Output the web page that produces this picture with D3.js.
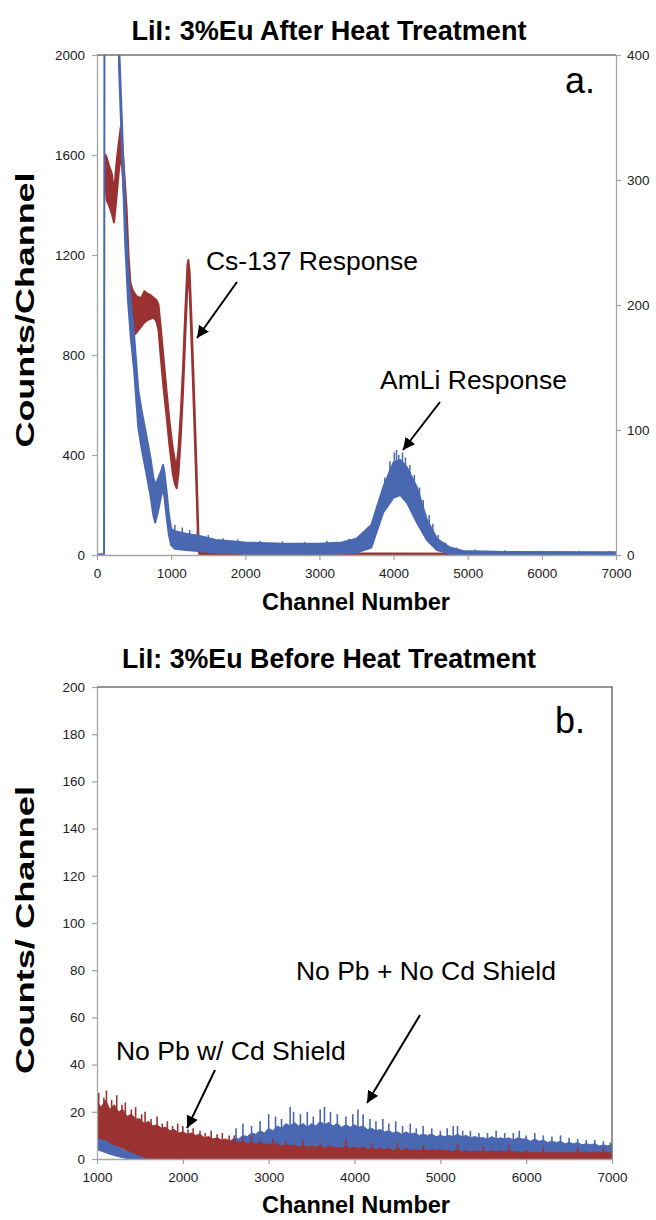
<!DOCTYPE html>
<html>
<head>
<meta charset="utf-8">
<script src="https://cdn.jsdelivr.net/npm/d3@7"></script>
<style>
body { margin: 0; background: #fff; }
svg text { font-family: "Liberation Sans", Arial, sans-serif; }
.tick text { font-size: 13.5px; fill: #222; }
</style>
</head>
<body>
<div id="chart"></div>
<script>
// ---- panel a: after heat treatment ----
const xTicksA = [0, 1000, 2000, 3000, 4000, 5000, 6000, 7000];
const yTicksLeftA = [0, 400, 800, 1200, 1600, 2000];
const yTicksRightA = [0, 100, 200, 300, 400];

// Cs-137 spectrum, left axis (counts/channel), upper and lower edge of the noise band
const csUpper = [[115,1600],[130,1590],[160,1560],[200,1525],[230,1450],[260,1560],[290,1640],[320,1710],[340,1650],[370,1520],[400,1380],[425,1200],[450,1090],[480,1060],[520,1040],[560,1030],[600,1030],[640,1055],[680,1045],[720,1040],[760,1030],[800,1020],[830,1000],[860,910],[900,780],[940,650],[980,530],[1020,430],[1050,380],[1075,360],[1100,430],[1130,570],[1160,750],[1190,970],[1220,1160],[1232,1180],[1250,1130],[1280,900],[1310,640],[1340,370],[1367,90],[1385,12],[1500,8],[3000,6],[4000,6],[7000,5]];
const csLower = [[115,1480],[130,1420],[160,1400],[200,1365],[230,1330],[260,1420],[290,1520],[320,1600],[340,1550],[370,1420],[400,1250],[425,1080],[450,930],[480,880],[520,885],[560,900],[600,915],[640,930],[680,940],[720,945],[760,950],[800,935],[830,900],[860,790],[900,660],[940,550],[980,430],[1020,330],[1050,285],[1075,267],[1100,330],[1130,470],[1160,650],[1190,870],[1220,1080],[1232,1130],[1250,1050],[1280,810],[1310,550],[1340,280],[1367,20],[1385,0],[7000,0]];

// AmLi spectrum, right axis
const amUpper = [[0,0.6],[95,0.6],[103,600],[290,600],[297,410],[340,340],[380,274],[420,228],[456,202],[500,176],[557,132],[600,116],[670,94],[720,78],[760,62],[790,56],[830,62],[870,68],[890,72],[910,66],[940,50],[970,32],[1000,21],[1050,19],[1200,17],[1400,15],[1600,12],[2000,10],[2500,9],[3000,9],[3300,10],[3500,13],[3700,24],[3860,54],[4000,74],[4090,76],[4180,70],[4315,54],[4450,28],[4585,13],[4760,6],[4940,3.2],[5500,2.4],[7000,2.1]];
const amLower = [[0,0],[95,0],[103,600],[290,600],[297,390],[340,320],[380,250],[420,202],[456,174],[500,148],[557,102],[600,86],[670,64],[720,48],[760,32],[785,26],[820,34],[860,46],[890,54],[910,46],[940,30],[970,16],[1000,8],[1050,5],[1200,4],[1400,3],[1600,2],[2000,1],[3300,1],[3500,2],[3700,6],[3860,34],[4000,46],[4090,48],[4180,42],[4315,26],[4450,12],[4585,4],[4760,1],[4940,0.5],[7000,0.5]];
// single channels sticking out of the AmLi band: [channel, from, to]
const amSpikes = [[1050,17,24],[1150,15,22],[1250,14,20],[1350,13,19],[1500,11,16],[1700,9,13.5],[1900,8,12.5],[2200,7,11.5],[2500,7,11],[2800,7,10.5],[3100,7,11.5],[3400,8,13],[3550,10,16],[3650,14,21],[3750,22,31],[3820,36,46],[3880,50,62],[3950,60,75],[4010,66,82],[4040,68,84],[4070,68,80],[4120,68,82],[4160,66,78],[4220,60,72],[4280,54,64],[4350,44,54],[4400,36,44],[4480,22,32],[4530,16,25],[4600,9,16],[4700,5,10],[4850,3,6],[5100,2,4.5],[5500,1.8,3.8],[6000,1.8,3.5],[6500,1.8,3.4],[6900,1.8,3]];

// ---- panel b: before heat treatment ----
const xTicksB = [1000, 2000, 3000, 4000, 5000, 6000, 7000];
const yTicksB = [0, 20, 40, 60, 80, 100, 120, 140, 160, 180, 200];
const channelsB = d3.range(1000, 7001, 50);

// No Pb w/ Cd shield (red) - top of the dense band, one value per 50 channels
const cdShieldTop = [
  24,22,25,21,23,20,21,18,19,17,
  17,15,16,14,14.5,13,13.5,12,12.5,11,
  11.5,10.5,11,10,10.5,9,9.5,8.5,9,8,
  8.5,7.5,8,7,7.5,6.5,7,6.5,7,6,
  6.5,6,6.5,5.5,6,5.5,6,5,5.5,5,
  5.5,5,5.5,4.5,5.5,5,5,4.5,5.5,4.5,
  5,4.5,5,4,4.5,4,4.5,4,4.5,3.5,
  4.5,3.5,4.5,3.5,4,3.5,4,3.5,4,3.5,
  4,3.5,3.5,3,4,3,3.5,3,3.5,3,
  3.5,3,3.5,3,3.5,3,3.5,3,3,2.5,
  3.5,2.5,3,2.5,3,2.5,3,2.5,3,2.5,
  3,2.5,3,2.5,3,2.5,3,2.5,3,2.5,
  3];
const cdShieldBottom = [[1000,9],[1100,8],[1200,6],[1300,4.5],[1400,3],[1500,1.5],[1600,0],[7000,0]];
const cdShieldSpikes = [[1020,14,28],[1080,14,26],[1110,14,29],[1170,14,25],[1230,13,27],[1290,12,23],[1330,12,24],[1400,11,21],[1450,11,22],[1520,10,19],[1560,10,20],[1630,9,17],[1700,8,18],[1760,8,15],[1820,7,16],[1880,7,14],[1940,6,15],[2000,6,14],[2060,5,12.5],[2120,5,13],[2200,5,12],[2260,4,11],[2330,4,12],[2400,4,10.5],[2460,4,11],[2540,4,10],[2600,3,10],[2700,3,9],[2800,3,9.5],[2900,3,8],[3050,3,8.5],[3200,3,7.5],[3400,3,8],[3600,3,7],[3900,3,8.5],[4200,2,6.5],[4500,2,7],[4800,2,6],[5200,2,6.5],[5500,2,5.5],[5800,2,6],[6200,2,5],[6600,2,5],[6900,2,4.5]];

// No Pb + no Cd shield (blue)
const noShieldTop = [
  10,9,8,7,6,5,4,3.5,3,2.5,
  2,2,1.5,1.5,1.5,1.5,1.5,1.5,1.5,1.5,
  1.5,1.5,1.5,1.5,2,2,2.5,3,4,5,
  6,7.5,9,8.5,10,9.5,11,10.5,12,11,
  13,12,14,13,15,14,15.5,14,15,13.5,
  15,14,16,14.5,15.5,14,15,13.5,14.5,13.5,
  14.5,13.5,14,12.5,13,12,12.5,11.5,12,11,
  11.5,10.5,11.5,10.5,11,10,10.5,10,10.5,9.5,
  10,9.5,10,9.5,10.5,9.5,10,9,9.5,9,
  9,8.5,9.5,8.5,9,8.5,9,8,9,8.5,
  8.5,7.5,8.5,7.5,8,7,7.5,7,7.5,6.5,
  7,6.5,7,6,6.5,6,6.5,5.5,6,5.5,
  6];
const noShieldBottom = [[1000,4],[1150,2],[1300,0.5],[1400,0],[7000,0]];
const noShieldSpikes = [[2620,6,13],[2700,6,15],[2800,6,14],[2900,7,16],[3000,8,19],[3080,8,18],[3150,8,17],[3250,9,22],[3290,9,20],[3370,9,19],[3450,9,20],[3520,9,18],[3600,9,21],[3650,9,22],[3720,9,20],[3800,9,19],[3900,9,18],[3980,9,19],[4040,9,21],[4100,9,19],[4180,8,17],[4250,8,16],[4330,8,17],[4400,8,15],[4480,7,16],[4560,7,14],[4650,7,15],[4720,7,13],[4800,7,14],[4900,7,13],[5000,6,12],[5080,6,13],[5150,6,14],[5200,6,14],[5260,6,12],[5350,6,12],[5450,6,11],[5550,6,11],[5650,6,12],[5750,6,11],[5850,6,11],[5920,6,12],[6000,5,10],[6100,5,11],[6200,5,10],[6300,5,9.5],[6400,5,10],[6500,5,9],[6600,4,8.5],[6700,4,8],[6800,4,8],[6900,4,7.5],[6980,4,7]];

const red = "#9b3232", blue = "#4a68b2";
const axisGray = "#a6a6a6", borderGray = "#707070";

const width = 656, height = 1220;
const svg = d3.select("#chart").append("svg")
    .attr("width", width)
    .attr("height", height);

const defs = svg.append("defs");
defs.append("marker")
    .attr("id", "head")
    .attr("markerUnits", "userSpaceOnUse")
    .attr("markerWidth", 12).attr("markerHeight", 12)
    .attr("refX", 10).attr("refY", 5)
    .attr("viewBox", "0 0 10 10")
    .attr("orient", "auto")
    .append("path").attr("d", "M0,0L10,5L0,10Z").attr("fill", "#000");

function band(g, x, y, upper, lower, color, w) {
    const line = d3.line().x(d => x(d[0])).y(d => y(d[1]));
    g.append("path")
        .attr("d", line(upper.concat(lower.slice().reverse())) + "Z")
        .attr("fill", color)
        .attr("stroke", color)
        .attr("stroke-width", w)
        .attr("stroke-linejoin", "round");
}

function spikes(g, x, y, data, color, w) {
    g.selectAll(null).data(data).enter().append("line")
        .attr("x1", d => x(d[0])).attr("x2", d => x(d[0]))
        .attr("y1", d => y(d[1])).attr("y2", d => y(d[2]))
        .attr("stroke", color).attr("stroke-width", w);
}

function styleAxis(g) {
    g.select(".domain").attr("stroke", axisGray).attr("stroke-width", 1.3);
    g.selectAll(".tick line").attr("stroke", axisGray).attr("stroke-width", 1.3);
}

function arrow(x1, y1, x2, y2) {
    svg.append("line")
        .attr("x1", x1).attr("y1", y1).attr("x2", x2).attr("y2", y2)
        .attr("stroke", "#000").attr("stroke-width", 2)
        .attr("marker-end", "url(#head)");
}

function label(x, y, txt, size) {
    svg.append("text").attr("x", x).attr("y", y)
        .style("font-size", size + "px").attr("fill", "#000").text(txt);
}

// ================= panel a =================
const xA = d3.scaleLinear().domain([0, 7000]).range([97, 616]);
const yA = d3.scaleLinear().domain([0, 2000]).range([555, 55]);
const yA2 = d3.scaleLinear().domain([0, 400]).range([555, 55]);

defs.append("clipPath").attr("id", "clipA").append("rect")
    .attr("x", 97).attr("y", 55).attr("width", 519).attr("height", 502);

const plotA = svg.append("g").attr("clip-path", "url(#clipA)");
band(plotA, xA, yA, csUpper, csLower, red, 2);
band(plotA, xA, yA2, amUpper, amLower, blue, 2);
spikes(plotA, xA, yA2, amSpikes, blue, 1.5);

svg.append("g").attr("transform", "translate(0,555)")
    .call(d3.axisBottom(xA).tickValues(xTicksA).tickFormat(d3.format("d")).tickSize(5).tickSizeOuter(0).tickPadding(8))
    .call(styleAxis);
svg.append("g").attr("transform", "translate(97,0)")
    .call(d3.axisLeft(yA).tickValues(yTicksLeftA).tickFormat(d3.format("d")).tickSize(5).tickSizeOuter(0).tickPadding(7))
    .call(styleAxis);
svg.append("g").attr("transform", "translate(616,0)")
    .call(d3.axisRight(yA2).tickValues(yTicksRightA).tickFormat(d3.format("d")).tickSize(5).tickSizeOuter(0).tickPadding(6))
    .call(styleAxis);
svg.append("line").attr("x1", 97).attr("x2", 616).attr("y1", 55).attr("y2", 55)
    .attr("stroke", borderGray).attr("stroke-width", 1.5);

svg.append("text").attr("x", 329).attr("y", 40).attr("text-anchor", "middle")
    .style("font-size", "28px").style("font-weight", "bold")
    .attr("textLength", 395).attr("lengthAdjust", "spacingAndGlyphs").text("LiI: 3%Eu After Heat Treatment");
svg.append("text").attr("x", 356).attr("y", 610).attr("text-anchor", "middle")
    .style("font-size", "23.5px").style("font-weight", "bold").text("Channel Number");
svg.append("text").attr("transform", "translate(34,310) rotate(-90)").attr("text-anchor", "middle")
    .style("font-size", "25px").style("font-weight", "bold")
    .attr("textLength", 275).attr("lengthAdjust", "spacingAndGlyphs").text("Counts/Channel");

label(xA(6312), yA(1848), "a.", 36);
label(xA(1470), yA(1140), "Cs-137 Response", 26.5);
arrow(xA(1888), yA(1092), xA(1349), yA(868));
label(xA(3817), yA(664), "AmLi Response", 26.5);
arrow(xA(4626), yA(612), xA(4127), yA(420));

// ================= panel b =================
const xB = d3.scaleLinear().domain([1000, 7000]).range([97, 612]);
const yB = d3.scaleLinear().domain([0, 200]).range([1159, 687]);

defs.append("clipPath").attr("id", "clipB").append("rect")
    .attr("x", 97).attr("y", 687).attr("width", 515).attr("height", 474);

const plotB = svg.append("g").attr("clip-path", "url(#clipB)");
band(plotB, xB, yB, channelsB.map((c, i) => [c, noShieldTop[i]]), noShieldBottom, blue, 1);
spikes(plotB, xB, yB, noShieldSpikes, blue, 1.6);
band(plotB, xB, yB, channelsB.map((c, i) => [c, cdShieldTop[i]]), cdShieldBottom, red, 1);
spikes(plotB, xB, yB, cdShieldSpikes, red, 1.6);

svg.append("g").attr("transform", "translate(0,1159)")
    .call(d3.axisBottom(xB).tickValues(xTicksB).tickFormat(d3.format("d")).tickSize(5).tickSizeOuter(0).tickPadding(8))
    .call(styleAxis);
svg.append("g").attr("transform", "translate(97,0)")
    .call(d3.axisLeft(yB).tickValues(yTicksB).tickFormat(d3.format("d")).tickSize(5).tickSizeOuter(0).tickPadding(7))
    .call(styleAxis);
svg.append("path").attr("d", "M97,687H612V1159")
    .attr("fill", "none").attr("stroke", borderGray).attr("stroke-width", 1.5);

svg.append("text").attr("x", 329).attr("y", 668).attr("text-anchor", "middle")
    .style("font-size", "28px").style("font-weight", "bold")
    .attr("textLength", 414).attr("lengthAdjust", "spacingAndGlyphs").text("LiI: 3%Eu Before Heat Treatment");
svg.append("text").attr("x", 356).attr("y", 1213).attr("text-anchor", "middle")
    .style("font-size", "23.5px").style("font-weight", "bold").text("Channel Number");
svg.append("text").attr("transform", "translate(34,930) rotate(-90)").attr("text-anchor", "middle")
    .style("font-size", "25px").style("font-weight", "bold")
    .attr("textLength", 288).attr("lengthAdjust", "spacingAndGlyphs").text("Counts/ Channel");

label(xB(6336), yB(180.5), "b.", 36);
label(xB(3318), yB(75.8), "No Pb + No Cd Shield", 26.5);
arrow(xB(4763), yB(61), xB(4146), yB(23.7));
label(xB(1221), yB(42), "No Pb w/ Cd Shield", 26.5);
arrow(xB(2375), yB(37.7), xB(2049), yB(13.1));
</script>
</body>
</html>
